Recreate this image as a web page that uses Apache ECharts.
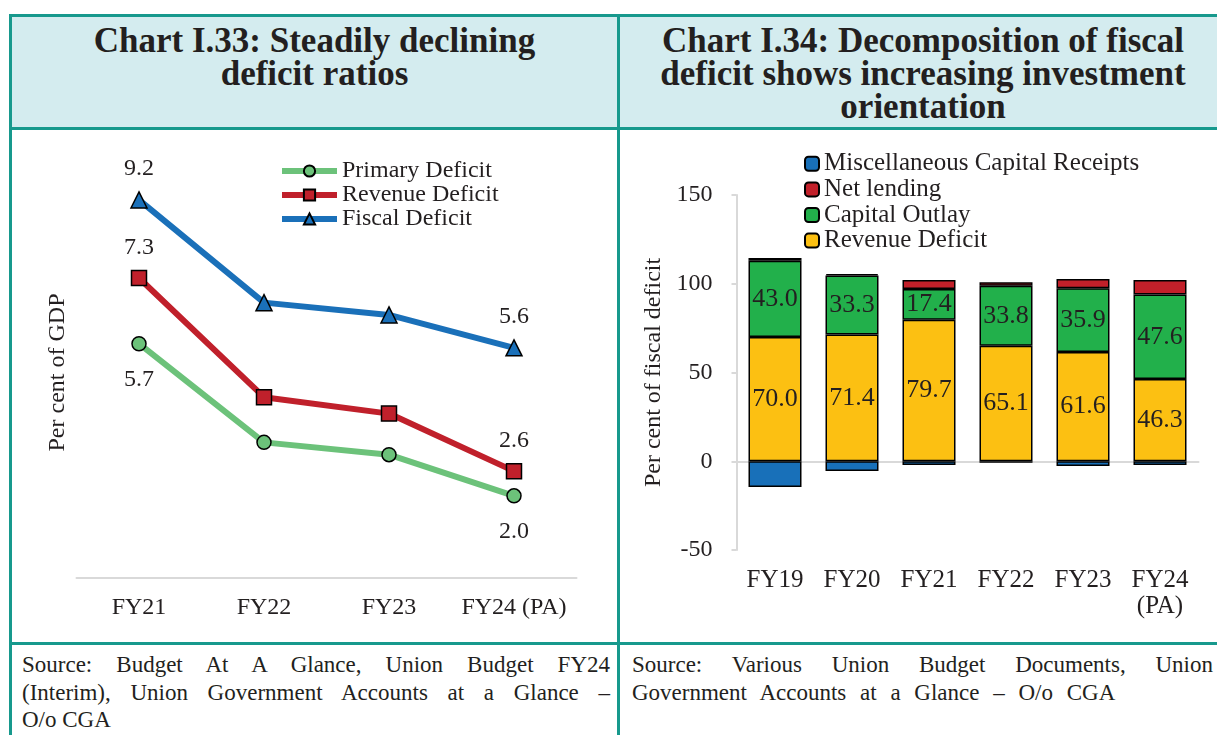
<!DOCTYPE html>
<html>
<head>
    <meta http-equiv="Content-Type" content="text/html; charset=utf-8">
    <title>Chart I.33 / I.34</title>
    <script src="https://cdn.jsdelivr.net/npm/echarts@6/dist/echarts.min.js"></script>
    <style>
        html, body {margin:0; padding:0; background:#fff; width:1217px; height:735px; overflow:hidden;}
        .box {position:absolute; box-sizing:border-box;}
        .rule {position:absolute; background:#17998d;}
        .title {background:#d4ecef; font-family:'Liberation Serif', serif; font-weight:bold;
                font-size:35px; line-height:33px; text-align:center; color:#231f20; padding-top:7px;}
        .src {font-family:'Liberation Serif', serif; font-size:23px; line-height:27.5px;
              color:#231f20; padding-top:6px;}
        .src div {white-space:nowrap;}
        .src .j {text-align:justify; text-align-last:justify;}
        .src .w {word-spacing:8px;}
    </style>
</head>
<body>
    <!-- frame -->
    <div class="box title" style="left:12px;top:17px;width:605px;height:110px;">Chart I.33: Steadily declining<br>deficit ratios</div>
    <div class="box title" style="left:620px;top:17px;width:606px;height:110px;">Chart I.34: Decomposition of fiscal<br>deficit shows increasing investment<br>orientation</div>

    <div class="box" id="left" style="left:12px;top:130px;width:605px;height:512px;"></div>
    <div class="box" id="right" style="left:620px;top:130px;width:606px;height:512px;"></div>

    <div class="box src" style="left:12px;top:645px;width:605px;height:90px;padding-left:10px;padding-right:7px;">
        <div class="j">Source: Budget At A Glance, Union Budget FY24</div>
        <div class="j">(Interim), Union Government Accounts at a Glance –</div>
        <div>O/o CGA</div>
    </div>
    <div class="box src" style="left:620px;top:645px;width:606px;height:90px;padding-left:12px;padding-right:13px;">
        <div class="j">Source: Various Union Budget Documents, Union</div>
        <div class="w">Government Accounts at a Glance – O/o CGA</div>
    </div>

    <div class="rule" style="left:9px;top:14px;width:1220px;height:3px;"></div>
    <div class="rule" style="left:9px;top:127px;width:1220px;height:3px;"></div>
    <div class="rule" style="left:9px;top:642px;width:1220px;height:3px;"></div>
    <div class="rule" style="left:9px;top:14px;width:3px;height:730px;"></div>
    <div class="rule" style="left:617px;top:14px;width:3px;height:730px;"></div>

    <script type="text/javascript">
        // Chart I.33 data (per cent of GDP)
        var lineYears = ['FY21', 'FY22', 'FY23', 'FY24 (PA)'];
        var primaryDeficit = [5.7, 3.3, 3.0, 2.0];
        var revenueDeficit = [7.3, 4.4, 4.0, 2.6];
        var fiscalDeficit = [9.2, 6.7, 6.4, 5.6];

        // Chart I.34 data (per cent of fiscal deficit)
        var barYears = ['FY19', 'FY20', 'FY21', 'FY22', 'FY23', 'FY24\n(PA)'];
        var revenueShare = [70.0, 71.4, 79.7, 65.1, 61.6, 46.3];
        var capitalOutlay = [43.0, 33.3, 17.4, 33.8, 35.9, 47.6];
        var netLending = [1.5, 0.8, 5.0, 2.0, 5.2, 8.2];
        var miscReceipts = [-14.5, -5.5, -2.1, -0.9, -2.7, -2.1];

        var serif = 'Liberation Serif';
        var ink = '#231f20';

        // only first and last points carry a label
        function endLabel(p) {
            var last = lineYears.length - 1;
            return (p.dataIndex === 0 || p.dataIndex === last) ? p.value.toFixed(1) : '';
        }
        function lineSeries(name, data, color, symbol, size, pos, dist) {
            return {
                name: name, type: 'line', data: data,
                symbol: symbol, symbolSize: size,
                lineStyle: {color: color, width: 6},
                itemStyle: {color: color, borderColor: '#000', borderWidth: 1.5},
                label: {show: true, position: pos, distance: dist, formatter: endLabel,
                        fontFamily: serif, fontSize: 24, color: ink},
                z: 3
            };
        }

        var leftChart = echarts.init(document.getElementById('left'));
        leftChart.setOption({
            animation: false,
            textStyle: {fontFamily: serif},
            grid: {left: 64.5, top: 37, width: 500, height: 411},
            legend: {
                left: 262, top: 24, orient: 'vertical',
                itemWidth: 55, itemHeight: 14, itemGap: 0,
                lineStyle: {width: 6},
                textStyle: {fontFamily: serif, fontSize: 24, color: ink, lineHeight: 23.5},
                data: ['Primary Deficit', 'Revenue Deficit', 'Fiscal Deficit']
            },
            xAxis: {
                type: 'category', data: lineYears, boundaryGap: true,
                axisLine: {lineStyle: {color: '#d9d9d9', width: 2}},
                axisTick: {show: false},
                axisLabel: {interval: 0, fontFamily: serif, fontSize: 24, color: ink, margin: 17, lineHeight: 26}
            },
            yAxis: {
                type: 'value', min: 0, max: 10,
                name: 'Per cent of GDP', nameLocation: 'middle', nameGap: 6.5, nameRotate: 90,
                nameTextStyle: {fontFamily: serif, fontSize: 24, color: ink},
                axisLine: {show: false}, axisTick: {show: false},
                axisLabel: {show: false}, splitLine: {show: false}
            },
            series: [
                lineSeries('Primary Deficit', primaryDeficit, '#6cc27a', 'circle', 14, 'bottom', 16),
                lineSeries('Revenue Deficit', revenueDeficit, '#c0202b', 'rect', 15, 'top', 10),
                lineSeries('Fiscal Deficit', fiscalDeficit, '#1a70b9', 'triangle', 16, 'top', 10)
            ]
        });

        function barSeries(name, data, color, showLabel) {
            return {
                name: name, type: 'bar', stack: 'fd', data: data, barWidth: 53,
                xAxisIndex: 0,
                itemStyle: {color: color, borderColor: '#000', borderWidth: 1.5},
                label: {show: showLabel, position: 'inside', fontFamily: serif, fontSize: 26, color: ink,
                        formatter: function (p) { return p.value.toFixed(1); }}
            };
        }

        var rightChart = echarts.init(document.getElementById('right'));
        rightChart.setOption({
            animation: false,
            textStyle: {fontFamily: serif},
            grid: {left: 116.5, top: 65, width: 462, height: 355},
            legend: {
                left: 179, top: 16, orient: 'vertical',
                itemWidth: 14, itemHeight: 14, itemGap: 0,
                textStyle: {fontFamily: serif, fontSize: 25, color: ink, lineHeight: 25.6},
                data: ['Miscellaneous Capital Receipts', 'Net lending', 'Capital Outlay', 'Revenue Deficit']
            },
            xAxis: [{
                type: 'category', data: barYears,
                axisLine: {onZero: false, show: false},
                axisTick: {show: false},
                axisLabel: {interval: 0, fontFamily: serif, fontSize: 25, color: ink, margin: 17, lineHeight: 26}
            }, {
                // zero line
                type: 'category', data: barYears, position: 'bottom',
                axisLine: {onZero: true, lineStyle: {color: '#d9d9d9', width: 2}},
                axisTick: {show: false}, axisLabel: {show: false}
            }],
            yAxis: {
                type: 'value', min: -50, max: 150, interval: 50,
                name: 'Per cent of fiscal deficit', nameLocation: 'middle', nameGap: 58, nameRotate: 90,
                nameTextStyle: {fontFamily: serif, fontSize: 24, color: ink},
                axisLine: {show: true, lineStyle: {color: '#d9d9d9', width: 2}},
                axisTick: {show: true, length: 5, lineStyle: {color: '#d9d9d9', width: 2}},
                axisLabel: {fontFamily: serif, fontSize: 24, color: ink, margin: 24},
                splitLine: {show: false}
            },
            series: [
                barSeries('Revenue Deficit', revenueShare, '#fcc012', true),
                barSeries('Capital Outlay', capitalOutlay, '#22b04b', true),
                barSeries('Net lending', netLending, '#c2202a', false),
                barSeries('Miscellaneous Capital Receipts', miscReceipts, '#1870b9', false)
            ]
        });
    </script>
</body>
</html>
